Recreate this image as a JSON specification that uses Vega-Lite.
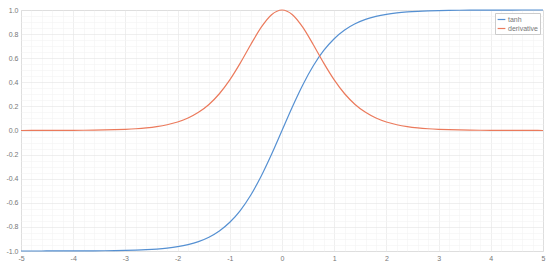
{
  "$schema": "https://vega.github.io/schema/vega-lite/v6.json",
  "autosize": "none",
  "width": 522,
  "height": 241,
  "padding": {"left": 21, "top": 10, "right": 7, "bottom": 15},
  "background": "white",
  "config": {
    "view": {"stroke": "#d6d6d6", "strokeWidth": 1},
    "font": "Liberation Sans",
    "axis": {
      "labelFont": "Liberation Sans",
      "labelFontSize": 7,
      "labelColor": "#777777",
      "domain": false,
      "ticks": false,
      "gridWidth": 0.6,
      "title": null
    }
  },
  "data": {
    "values": [
      {"x": -5.0, "tanh": -0.99991, "derivative": 0.00018},
      {"x": -4.8, "tanh": -0.99986, "derivative": 0.00027},
      {"x": -4.6, "tanh": -0.99980, "derivative": 0.00040},
      {"x": -4.4, "tanh": -0.99970, "derivative": 0.00060},
      {"x": -4.2, "tanh": -0.99955, "derivative": 0.00090},
      {"x": -4.0, "tanh": -0.99933, "derivative": 0.00134},
      {"x": -3.8, "tanh": -0.99900, "derivative": 0.00200},
      {"x": -3.6, "tanh": -0.99851, "derivative": 0.00298},
      {"x": -3.4, "tanh": -0.99777, "derivative": 0.00445},
      {"x": -3.2, "tanh": -0.99668, "derivative": 0.00663},
      {"x": -3.0, "tanh": -0.99505, "derivative": 0.00987},
      {"x": -2.8, "tanh": -0.99263, "derivative": 0.01468},
      {"x": -2.6, "tanh": -0.98903, "derivative": 0.02182},
      {"x": -2.4, "tanh": -0.98367, "derivative": 0.03239},
      {"x": -2.2, "tanh": -0.97574, "derivative": 0.04799},
      {"x": -2.0, "tanh": -0.96403, "derivative": 0.07065},
      {"x": -1.8, "tanh": -0.94681, "derivative": 0.10355},
      {"x": -1.6, "tanh": -0.92167, "derivative": 0.15052},
      {"x": -1.4, "tanh": -0.88535, "derivative": 0.21616},
      {"x": -1.2, "tanh": -0.83365, "derivative": 0.30503},
      {"x": -1.0, "tanh": -0.76159, "derivative": 0.41998},
      {"x": -0.8, "tanh": -0.66404, "derivative": 0.55905},
      {"x": -0.6, "tanh": -0.53705, "derivative": 0.71158},
      {"x": -0.4, "tanh": -0.37995, "derivative": 0.85564},
      {"x": -0.2, "tanh": -0.19738, "derivative": 0.96104},
      {"x": 0.0, "tanh": 0.0, "derivative": 1.0},
      {"x": 0.2, "tanh": 0.19738, "derivative": 0.96104},
      {"x": 0.4, "tanh": 0.37995, "derivative": 0.85564},
      {"x": 0.6, "tanh": 0.53705, "derivative": 0.71158},
      {"x": 0.8, "tanh": 0.66404, "derivative": 0.55905},
      {"x": 1.0, "tanh": 0.76159, "derivative": 0.41998},
      {"x": 1.2, "tanh": 0.83365, "derivative": 0.30503},
      {"x": 1.4, "tanh": 0.88535, "derivative": 0.21616},
      {"x": 1.6, "tanh": 0.92167, "derivative": 0.15052},
      {"x": 1.8, "tanh": 0.94681, "derivative": 0.10355},
      {"x": 2.0, "tanh": 0.96403, "derivative": 0.07065},
      {"x": 2.2, "tanh": 0.97574, "derivative": 0.04799},
      {"x": 2.4, "tanh": 0.98367, "derivative": 0.03239},
      {"x": 2.6, "tanh": 0.98903, "derivative": 0.02182},
      {"x": 2.8, "tanh": 0.99263, "derivative": 0.01468},
      {"x": 3.0, "tanh": 0.99505, "derivative": 0.00987},
      {"x": 3.2, "tanh": 0.99668, "derivative": 0.00663},
      {"x": 3.4, "tanh": 0.99777, "derivative": 0.00445},
      {"x": 3.6, "tanh": 0.99851, "derivative": 0.00298},
      {"x": 3.8, "tanh": 0.99900, "derivative": 0.00200},
      {"x": 4.0, "tanh": 0.99933, "derivative": 0.00134},
      {"x": 4.2, "tanh": 0.99955, "derivative": 0.00090},
      {"x": 4.4, "tanh": 0.99970, "derivative": 0.00060},
      {"x": 4.6, "tanh": 0.99980, "derivative": 0.00040},
      {"x": 4.8, "tanh": 0.99986, "derivative": 0.00027},
      {"x": 5.0, "tanh": 0.99991, "derivative": 0.00018}
    ]
  },
  "transform": [{"fold": ["tanh", "derivative"], "as": ["series", "value"]}],
  "mark": {"type": "line", "interpolate": "monotone", "strokeWidth": 1.2},
  "encoding": {
    "x": {
      "field": "x",
      "type": "quantitative",
      "scale": {"domain": [-5, 5], "nice": false, "zero": false},
      "axis": {
        "values": [-5,-4.8,-4.6,-4.4,-4.2,-4,-3.8,-3.6,-3.4,-3.2,-3,-2.8,-2.6,-2.4,-2.2,-2,-1.8,-1.6,-1.4,-1.2,-1,-0.8,-0.6,-0.4,-0.2,0,0.2,0.4,0.6,0.8,1,1.2,1.4,1.6,1.8,2,2.2,2.4,2.6,2.8,3,3.2,3.4,3.6,3.8,4,4.2,4.4,4.6,4.8,5],
        "labelExpr": "abs(round(datum.value*10)) % 10 === 0 ? replace(format(datum.value, 'd'), '\u2212', '-') : ''",
        "gridColor": {"condition": {"test": "abs(round(datum.value*10)) % 10 === 0", "value": "#e4e4e4"}, "value": "#f3f3f3"},
        "labelPadding": 3,
        "labelFlush": false
      }
    },
    "y": {
      "field": "value",
      "type": "quantitative",
      "scale": {"domain": [-1, 1], "nice": false, "zero": false},
      "axis": {
        "values": [-1,-0.95,-0.9,-0.85,-0.8,-0.75,-0.7,-0.65,-0.6,-0.55,-0.5,-0.45,-0.4,-0.35,-0.3,-0.25,-0.2,-0.15,-0.1,-0.05,0,0.05,0.1,0.15,0.2,0.25,0.3,0.35,0.4,0.45,0.5,0.55,0.6,0.65,0.7,0.75,0.8,0.85,0.9,0.95,1],
        "labelExpr": "abs(round(datum.value*100)) % 20 === 0 ? replace(format(datum.value, '.1f'), '\u2212', '-') : ''",
        "gridColor": {"condition": {"test": "abs(round(datum.value*100)) % 20 === 0", "value": "#e4e4e4"}, "value": "#f4f4f4"},
        "labelPadding": 3,
        "labelFlush": false
      }
    },
    "color": {
      "field": "series",
      "type": "nominal",
      "scale": {"domain": ["tanh", "derivative"], "range": ["#5590d2", "#eb7a5c"]},
      "legend": {
        "title": null,
        "orient": "top-right",
        "offset": 3,
        "symbolType": "stroke",
        "symbolSize": 60,
        "symbolStrokeWidth": 1.2,
        "labelFontSize": 7,
        "labelColor": "#777777",
        "labelFont": "Liberation Sans",
        "labelOffset": 2,
        "rowPadding": 1,
        "strokeColor": "#cccccc",
        "fillColor": "white",
        "padding": 2
      }
    }
  }
}
